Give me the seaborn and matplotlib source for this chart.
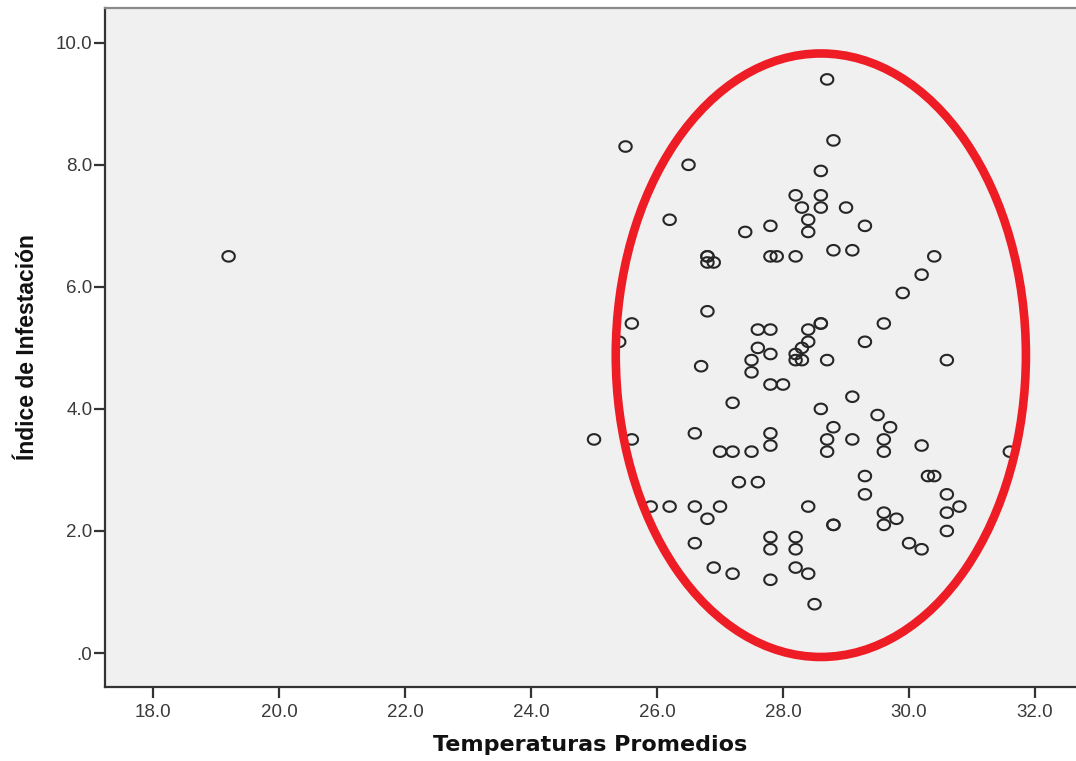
import numpy as np
import pandas as pd
import matplotlib
matplotlib.use("Agg")
import matplotlib.pyplot as plt
from matplotlib.path import Path
from matplotlib.patches import Ellipse
import seaborn as sns

# Temperatura promedio vs indice de infestacion
temperaturas = [
    19.2, 25.5, 26.5, 26.2, 27.4, 27.8, 26.8, 26.8, 26.8, 26.9,
    27.8, 27.9, 28.2, 28.2, 28.6, 28.6, 28.3, 28.4, 28.4, 28.6,
    28.7, 28.8, 29.0, 29.3, 28.8, 29.1, 30.4, 30.2, 29.9, 29.6,
    29.3, 28.6, 28.6, 28.4, 28.4, 28.3, 28.2, 28.2, 28.3, 28.7,
    30.6, 26.8, 25.6, 25.4, 27.6, 27.8, 27.6, 27.8, 27.5, 27.5,
    26.7, 27.8, 28.0, 27.2, 28.6, 29.1, 29.5, 28.8, 28.7, 28.7,
    29.1, 29.7, 29.6, 29.6, 30.2, 31.6, 25.0, 25.6, 26.6, 27.0,
    27.2, 27.5, 27.8, 27.8, 27.3, 27.6, 29.3, 29.3, 30.3, 30.4,
    30.6, 30.8, 30.6, 30.6, 29.6, 29.8, 29.6, 30.0, 30.2, 25.9,
    26.2, 26.6, 27.0, 26.8, 26.6, 26.9, 27.2, 27.8, 27.8, 27.8,
    28.2, 28.2, 28.2, 28.4, 28.5, 28.4, 28.8, 28.8,
]
indice = [
    6.5, 8.3, 8.0, 7.1, 6.9, 7.0, 6.5, 6.5, 6.4, 6.4,
    6.5, 6.5, 6.5, 7.5, 7.5, 7.3, 7.3, 7.1, 6.9, 7.9,
    9.4, 8.4, 7.3, 7.0, 6.6, 6.6, 6.5, 6.2, 5.9, 5.4,
    5.1, 5.4, 5.4, 5.3, 5.1, 5.0, 4.9, 4.8, 4.8, 4.8,
    4.8, 5.6, 5.4, 5.1, 5.3, 5.3, 5.0, 4.9, 4.8, 4.6,
    4.7, 4.4, 4.4, 4.1, 4.0, 4.2, 3.9, 3.7, 3.5, 3.3,
    3.5, 3.7, 3.5, 3.3, 3.4, 3.3, 3.5, 3.5, 3.6, 3.3,
    3.3, 3.3, 3.6, 3.4, 2.8, 2.8, 2.9, 2.6, 2.9, 2.9,
    2.6, 2.4, 2.3, 2.0, 2.3, 2.2, 2.1, 1.8, 1.7, 2.4,
    2.4, 2.4, 2.4, 2.2, 1.8, 1.4, 1.3, 1.9, 1.7, 1.2,
    1.9, 1.7, 1.4, 1.3, 0.8, 2.4, 2.1, 2.1,
]

x_ticks = [18, 20, 22, 24, 26, 28, 30, 32]
x_tick_labels = ["18.0", "20.0", "22.0", "24.0", "26.0", "28.0", "30.0", "32.0"]
y_ticks = [0, 2, 4, 6, 8, 10]
y_tick_labels = [".0", "2.0", "4.0", "6.0", "8.0", "10.0"]

# elipse roja que resalta el grupo
elipse_centro = (28.60, 4.88)
elipse_ancho = 6.51
elipse_alto = 9.89

df = pd.DataFrame({"temp": temperaturas, "indice": indice})

sns.set_style("white")
plt.rcParams["font.family"] = ["Liberation Sans", "DejaVu Sans"]

fig = plt.figure(figsize=(10.76, 7.61), dpi=100)
ax = fig.add_axes([105 / 1076, 74 / 761, 971 / 1076, 679 / 761])
ax.set_facecolor("#f0f0f0")

# marcador circular ligeramente achatado, como en SPSS
t = np.linspace(0, 2 * np.pi, 60)
marcador = Path(np.column_stack([np.cos(t), 0.85 * np.sin(t)]))

sns.scatterplot(
    data=df,
    x="temp",
    y="indice",
    marker=marcador,
    s=80,
    facecolors="none",
    edgecolor="#262626",
    linewidth=1.5,
    ax=ax,
    legend=False,
)

ax.add_patch(
    Ellipse(
        elipse_centro,
        elipse_ancho,
        elipse_alto,
        fill=False,
        edgecolor="#ee1c25",
        linewidth=6.2,
        zorder=3,
    )
)

ax.set_xlim(17.238, 32.65)
ax.set_ylim(-0.557, 10.57)
ax.set_xticks(x_ticks)
ax.set_xticklabels(x_tick_labels)
ax.set_yticks(y_ticks)
ax.set_yticklabels(y_tick_labels)

ax.tick_params(axis="both", direction="out", length=8, width=1.6,
               color="#333333", labelsize=13.5, labelcolor="#3a3a3a", pad=1,
               bottom=True, left=True)
ax.tick_params(axis="x", pad=4)

for side in ["left", "bottom"]:
    ax.spines[side].set_color("#333333")
    ax.spines[side].set_linewidth(1.6)
ax.spines["top"].set_color("#8a8a8a")
ax.spines["top"].set_linewidth(1.6)
ax.spines["right"].set_visible(False)

ax.set_xlabel("Temperaturas Promedios", fontsize=16, fontweight="bold",
              family=["DejaVu Sans"], color="#111111", labelpad=10)
ax.set_ylabel("Índice de Infestación", fontsize=16.5, fontweight="bold",
              color="#111111", labelpad=12)

plt.savefig("out.png", dpi=100)
